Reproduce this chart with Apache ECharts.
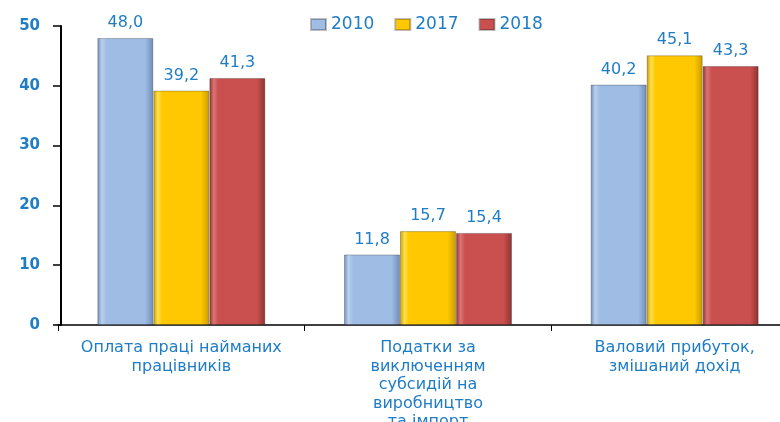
<!DOCTYPE html>
<html>
<head>
<meta charset="utf-8">
<script src="https://cdn.jsdelivr.net/npm/echarts@6/dist/echarts.min.js"></script>
<style>
  html, body { margin: 0; padding: 0; background: #fff; }
  #chart { width: 780px; height: 422px; }
</style>
</head>
<body>
<div id="chart"></div>
<script>
// дані діаграми
const categories = [
  'Оплата праці найманих\nпрацівників',
  'Податки за\nвиключенням\nсубсидій на\nвиробництво\nта імпорт',
  'Валовий прибуток,\nзмішаний дохід'
];
const years = ['2010', '2017', '2018'];
const values2010 = [48.0, 11.8, 40.2];
const values2017 = [39.2, 15.7, 45.1];
const values2018 = [41.3, 15.4, 43.3];
const yTicks = [0, 10, 20, 30, 40, 50];

const blue = '#1f7cc6';

// об'ємна заливка стовпчика
const bevel = (edge, main, light) => ({
  type: 'linear', x: 0, y: 0, x2: 1, y2: 0,
  colorStops: [
    { offset: 0, color: edge },
    { offset: 0.08, color: light },
    { offset: 0.16, color: main },
    { offset: 0.85, color: main },
    { offset: 1, color: edge }
  ]
});

const palette = [
  bevel('#6f8db8', '#9fbde4', '#b9d0ee'),
  bevel('#c89c00', '#ffc800', '#ffe04d'),
  bevel('#8e3230', '#c9504f', '#dc7574')
];
const legendColors = ['#4f6f9a', '#c9a800', '#a03b3a'];

const fmt = v => v.toFixed(1).replace('.', ',');

const chart = echarts.init(document.getElementById('chart'));

const makeSeries = (name, data, i) => ({
  name: name,
  type: 'bar',
  data: data,
  barWidth: 56,
  barGap: '0%',
  itemStyle: {
    color: palette[i],
    borderColor: 'rgba(0,0,0,0.25)',
    borderWidth: 1
  },
  label: {
    show: true,
    position: 'top',
    distance: 7,
    color: blue,
    fontFamily: 'DejaVu Sans',
    fontSize: 16,
    formatter: p => fmt(p.value)
  }
});

const option = {
  animation: false,
  color: legendColors,
  legend: {
    data: years,
    left: 305,
    top: 11,
    itemWidth: 15,
    itemHeight: 11,
    itemGap: 20,
    icon: 'rect',
    textStyle: {
      color: blue,
      fontFamily: 'DejaVu Sans',
      fontSize: 17
    }
  },
  grid: {
    left: 58,
    top: 26,
    width: 740,
    height: 299,
    outerBoundsMode: 'none'
  },
  xAxis: {
    type: 'category',
    data: categories,
    axisLine: { lineStyle: { color: '#000', width: 1.5 } },
    axisTick: { show: true, length: 6, lineStyle: { color: '#000' } },
    axisLabel: {
      color: blue,
      fontFamily: 'DejaVu Sans',
      fontSize: 16,
      lineHeight: 18.5,
      margin: 14,
      interval: 0
    }
  },
  yAxis: {
    type: 'value',
    offset: -3,
    min: yTicks[0],
    max: yTicks[yTicks.length - 1],
    interval: 10,
    axisLine: { show: true, lineStyle: { color: '#000', width: 2 } },
    axisTick: { show: true, length: 8, lineStyle: { color: '#000', width: 1.5 } },
    splitLine: { show: false },
    axisLabel: {
      color: blue,
      fontFamily: 'DejaVu Sans',
      fontWeight: 'bold',
      fontSize: 15,
      margin: 21
    }
  },
  series: [
    makeSeries(years[0], values2010, 0),
    makeSeries(years[1], values2017, 1),
    makeSeries(years[2], values2018, 2)
  ]
};

chart.setOption(option);
</script>
</body>
</html>
